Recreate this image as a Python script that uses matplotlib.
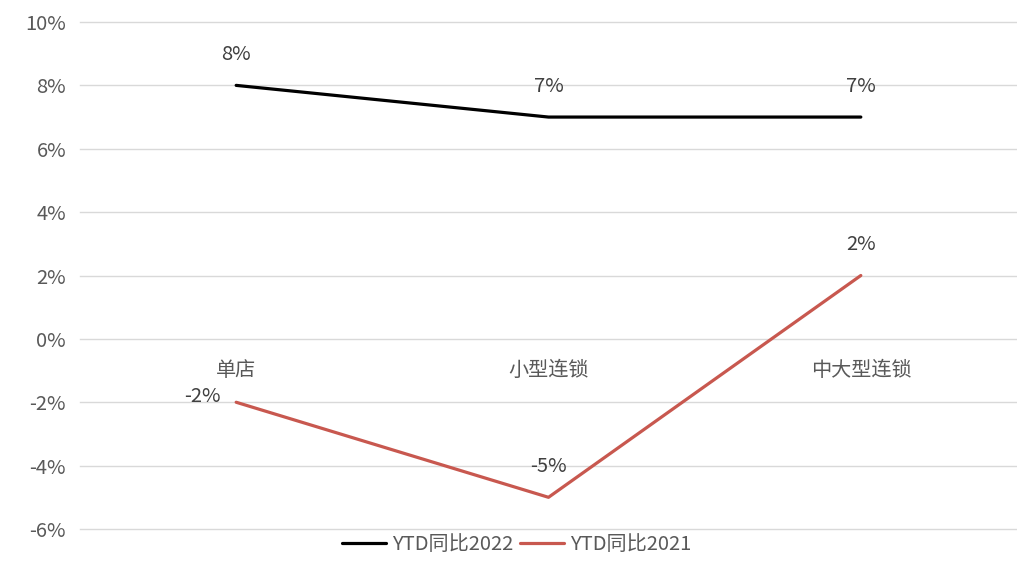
import numpy as np
import matplotlib.pyplot as plt

plt.rcParams["font.family"] = ["Noto Sans CJK SC", "DejaVu Sans"]
plt.rcParams["axes.unicode_minus"] = False

categories = ["单店", "小型连锁", "中大型连锁"]
ytd_2022 = [8, 7, 7]
ytd_2021 = [-2, -5, 2]
yticks = [-6, -4, -2, 0, 2, 4, 6, 8, 10]

text_color = "#595959"
red = "#C8584F"
fs = 14.5

fig = plt.figure(figsize=(10.17, 5.63), dpi=100)
ax = fig.add_axes([80 / 1017, 1 - 529 / 563, 937 / 1017, 507 / 563])

x = np.arange(len(categories))
ax.plot(x, ytd_2022, color="black", lw=2.3, label="YTD同比2022", solid_capstyle="round")
ax.plot(x, ytd_2021, color=red, lw=2.3, label="YTD同比2021", solid_capstyle="round")

# 数据标签
for xi, v in zip(x, ytd_2022):
    ax.annotate(f"{v}%", (xi, v), xytext=(0, 22), textcoords="offset points",
                ha="center", va="center", fontsize=fs, color="#404040")
for xi, v in zip(x, ytd_2021):
    if xi == 0:
        ax.annotate(f"{v}%", (xi, v), xytext=(-24, 4), textcoords="offset points",
                    ha="center", va="center", fontsize=fs, color="#404040")
    else:
        ax.annotate(f"{v}%", (xi, v), xytext=(0, 22), textcoords="offset points",
                    ha="center", va="center", fontsize=fs, color="#404040")

ax.set_xlim(-0.5, 2.5)
ax.set_ylim(-6, 10)
ax.set_yticks(yticks)
ax.set_yticklabels([f"{t}%" for t in yticks])
ax.set_xticks(x)
ax.set_xticklabels(categories)
ax.tick_params(axis="y", length=0, pad=10, labelsize=fs, labelcolor=text_color)
ax.tick_params(axis="x", length=0, pad=15, labelsize=fs, labelcolor=text_color)

ax.spines["bottom"].set_position(("data", 0))
for s in ax.spines.values():
    s.set_visible(False)
ax.grid(axis="y", color="#D9D9D9", lw=1)
for gl in ax.get_ygridlines():
    gl.set_clip_on(False)
ax.set_axisbelow(True)

fig.legend(loc="center", bbox_to_anchor=(0.508, 1 - 545 / 563), ncol=2, frameon=False,
           fontsize=fs, labelcolor=text_color, handlelength=2.2, handletextpad=0.3,
           columnspacing=0.3)

plt.savefig("out.png", dpi=100)
